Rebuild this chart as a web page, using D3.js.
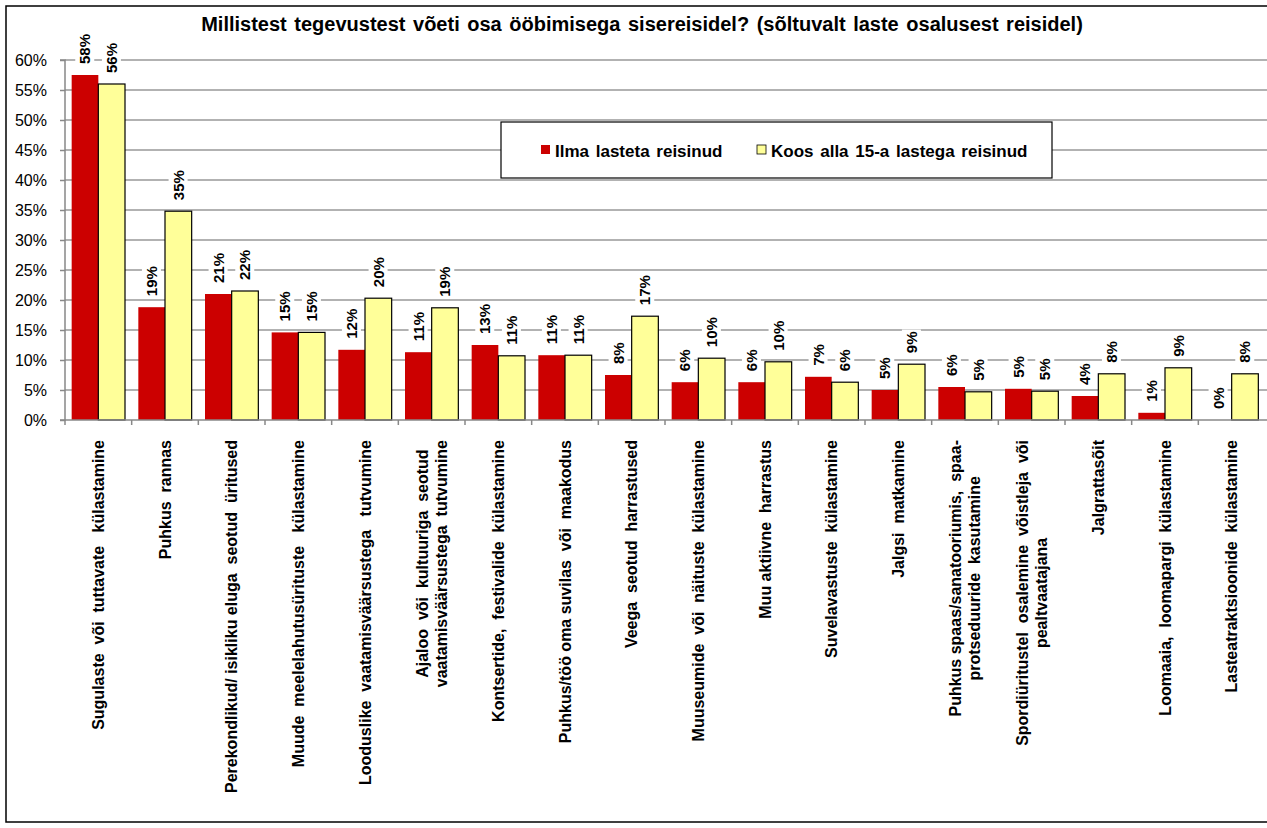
<!DOCTYPE html>
<html>
<head>
<meta charset="utf-8">
<script src="https://cdn.jsdelivr.net/npm/d3@7"></script>
<style>
  html, body { margin: 0; padding: 0; background: #fff; }
  svg { display: block; font-family: "Liberation Sans", Arial, sans-serif; }
</style>
</head>
<body>
<svg id="chart" width="1267" height="828"></svg>
<script>
const titleText = "Millistest tegevustest võeti osa ööbimisega sisereisidel? (sõltuvalt laste osalusest reisidel)";

const categories = [
  "Sugulaste  või  tuttavate   külastamine",
  "Puhkus  rannas",
  "Perekondlikud/ isikliku eluga  seotud  üritused",
  "Muude  meelelahutusürituste   külastamine",
  "Looduslike  vaatamisväärsustega   tutvumine",
  "Ajaloo  või  kultuuriga  seotud\nvaatamisväärsustega  tutvumine",
  "Kontsertide,  festivalide  külastamine",
  "Puhkus/töö oma suvilas  või  maakodus",
  "Veega  seotud  harrastused",
  "Muuseumide  või  näituste  külastamine",
  "Muu aktiivne  harrastus",
  "Suvelavastuste  külastamine",
  "Jalgsi  matkamine",
  "Puhkus spaas/sanatooriumis,  spaa-\nprotseduuride  kasutamine",
  "Spordiüritustel  osalemine  võistleja  või\npealtvaatajana",
  "Jalgrattasõit",
  "Loomaaia,  loomapargi  külastamine",
  "Lasteatraktsioonide  külastamine"
];

const seriesNames = ["Ilma lasteta reisinud", "Koos alla 15-a lastega reisinud"];

const withoutChildren = [57.5, 18.8, 21.0, 14.6, 11.7, 11.3, 12.5, 10.8, 7.5, 6.3, 6.3, 7.2, 5.0, 5.5, 5.2, 4.0, 1.2, 0.0];
const withChildren    = [56.0, 34.8, 21.5, 14.6, 20.3, 18.7, 10.7, 10.8, 17.3, 10.3, 9.7, 6.3, 9.3, 4.7, 4.8, 7.7, 8.7, 7.7];

const yTicks = [0, 5, 10, 15, 20, 25, 30, 35, 40, 45, 50, 55, 60];

const seriesColors = ["#CC0000", "#FFFF99"];

const svg = d3.select("#chart");
const W = 1267, H = 828;
const plotLeft = 65, plotRight = 1265, plotTop = 60, plotBottom = 420;

// outer border
svg.append("rect").attr("x", 6).attr("y", 6).attr("width", 1300).attr("height", 816)
  .attr("fill", "#fff").attr("stroke", "#000").attr("stroke-width", 1.5);

const y = d3.scaleLinear().domain([0, 60]).range([plotBottom, plotTop]);
const xCat = d3.scaleBand().domain(categories).range([plotLeft, plotRight]).padding(0);
const x0 = d3.scaleBand().domain(categories).range([plotLeft, plotRight]).paddingInner(0.2).paddingOuter(0.1);
const x1 = d3.scaleBand().domain([0, 1]).range([0, x0.bandwidth()]).padding(0);

// gridlines
svg.append("g").selectAll("line").data(yTicks.filter(d => d > 0)).join("line")
  .attr("x1", plotLeft).attr("x2", W + 10)
  .attr("y1", d => y(d)).attr("y2", d => y(d))
  .attr("stroke", "#999").attr("stroke-width", 1.5);

// y axis
const yAxis = d3.axisLeft(y).tickValues(yTicks).tickFormat(d => d + "%").tickSize(5).tickPadding(13);
const gy = svg.append("g").attr("transform", `translate(${plotLeft},0)`).call(yAxis);
gy.select(".domain").attr("stroke", "#888").attr("stroke-width", 1.5).attr("d", `M-5,${plotTop}H0V${plotBottom}H-5`);
gy.selectAll(".tick line").attr("stroke", "#888").attr("stroke-width", 1.5);
gy.selectAll(".tick text").attr("font-size", 16).attr("fill", "#000").attr("font-family", "Liberation Sans, Arial, sans-serif");

// legend box
const legend = svg.append("g");
legend.append("rect").attr("x", 501).attr("y", 122).attr("width", 551).attr("height", 56)
  .attr("fill", "#fff").attr("stroke", "#000").attr("stroke-width", 1.2);
const legX = [541, 757];
seriesNames.forEach((name, i) => {
  legend.append("rect").attr("x", legX[i]).attr("y", 145).attr("width", 9).attr("height", 9)
    .attr("fill", seriesColors[i]).attr("stroke", i === 1 ? "#000" : "none").attr("stroke-width", 0.8);
  legend.append("text").attr("x", legX[i] + 14).attr("y", 151).attr("dy", "0.35em")
    .attr("font-size", 17).attr("font-weight", "bold").attr("word-spacing", 2).text(name);
});

// bars
const seriesData = [withoutChildren, withChildren];
const barG = svg.append("g");
seriesData.forEach((vals, si) => {
  barG.selectAll(null).data(categories.map((c, i) => ({ c, v: vals[i] }))).join("rect")
    .attr("x", d => x0(d.c) + x1(si))
    .attr("y", d => y(d.v))
    .attr("width", x1.bandwidth())
    .attr("height", d => plotBottom - y(d.v))
    .attr("fill", seriesColors[si])
    .attr("stroke", si === 1 ? "#000" : "none")
    .attr("stroke-width", 1.2);
});

// x axis
svg.append("line").attr("x1", plotLeft).attr("x2", W + 10).attr("y1", plotBottom).attr("y2", plotBottom)
  .attr("stroke", "#888").attr("stroke-width", 1.5);
svg.append("g").selectAll("line").data(categories).join("line")
  .attr("x1", d => xCat(d)).attr("x2", d => xCat(d))
  .attr("y1", plotBottom).attr("y2", plotBottom + 5)
  .attr("stroke", "#888").attr("stroke-width", 1.5);

// value labels
const labG = svg.append("g");
seriesData.forEach((vals, si) => {
  categories.forEach((c, i) => {
    const v = vals[i];
    const cx = x0(c) + x1(si) + x1.bandwidth() / 2;
    const top = y(v) - 11;
    const g = labG.append("g").attr("transform", `translate(${cx},${top}) rotate(-90)`);
    const bg = g.append("rect").attr("fill", "#fff");
    const t = g.append("text").attr("x", 0).attr("y", 0).attr("dy", "0.35em")
      .attr("font-size", 15).attr("font-weight", "bold").attr("text-anchor", "start")
      .text(Math.round(v) + "%");
    const bb = t.node().getBBox();
    bg.attr("x", bb.x - 2).attr("y", bb.y - 1).attr("width", bb.width + 4).attr("height", bb.height + 2);
  });
});

// category labels
const catG = svg.append("g");
categories.forEach((c) => {
  const lines = c.split("\n");
  const cx = xCat(c) + xCat.bandwidth() / 2;
  const lh = 19;
  const g = catG.append("g");
  const texts = lines.map((ln, li) => g.append("text")
    .attr("font-size", 16).attr("font-weight", "bold").attr("text-anchor", "middle")
    .attr("xml:space", "preserve").style("white-space", "pre").text(ln));
  const maxW = d3.max(texts, t => t.node().getComputedTextLength());
  const midY = 440 + maxW / 2;
  texts.forEach((t, li) => {
    const off = (li - (lines.length - 1) / 2) * lh;
    t.attr("transform", `translate(${cx + off},${midY}) rotate(-90)`).attr("dy", "0.35em");
  });
});

// title
svg.append("text").attr("x", 642).attr("y", 31).attr("text-anchor", "middle")
  .attr("font-size", 20).attr("font-weight", "bold").attr("word-spacing", 2).text(titleText);
</script>
</body>
</html>
